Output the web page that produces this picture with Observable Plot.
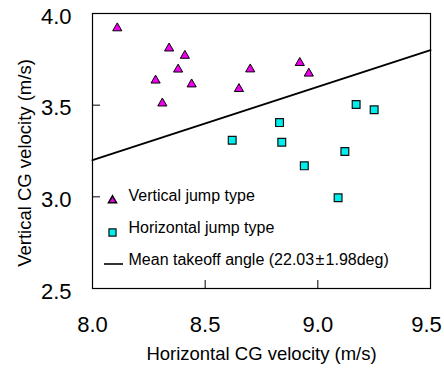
<!DOCTYPE html>
<html><head><meta charset="utf-8">
<script src="https://cdn.jsdelivr.net/npm/d3@7"></script>
<script src="https://cdn.jsdelivr.net/npm/@observablehq/plot@0.6"></script>
<style>body{margin:0;background:#fff;} svg{display:block;}</style>
</head><body><div id="chart"></div>
<script>
const verticalX = [8.11, 8.34, 8.41, 8.38, 8.28, 8.44, 8.31, 8.65, 8.70, 8.92, 8.96];
const verticalY = [3.92, 3.81, 3.77, 3.695, 3.635, 3.614, 3.51, 3.589, 3.696, 3.731, 3.673];
const horizontalX = [9.17, 9.25, 8.83, 8.62, 8.84, 9.12, 8.94, 9.09];
const horizontalY = [3.504, 3.475, 3.405, 3.309, 3.298, 3.247, 3.169, 2.995];
const lineX = [8.0, 9.5];
const lineY = [3.20, 3.80];
const xTicks = [8.0, 8.5, 9.0, 9.5];
const yTicks = [2.5, 3.0, 3.5, 4.0];
const legendLabels = ["Vertical jump type", "Horizontal jump type", "Mean takeoff angle (22.03\u200A\u00B1\u200A1.98deg)"];

const vertical = verticalX.map((x, i) => ({x, y: verticalY[i]}));
const horizontal = horizontalX.map((x, i) => ({x, y: horizontalY[i]}));
const line = lineX.map((x, i) => ({x, y: lineY[i]}));
const font = "Liberation Sans, Arial, Helvetica, sans-serif";
const magenta = "#ee00ee", cyan = "#00eeee";

function legendLine(index, scales, values, dimensions) {
  const x0 = dimensions.marginLeft;
  const y0 = dimensions.height - dimensions.marginBottom;
  const g = d3.create("svg:g");
  g.append("line").attr("x1", x0 + 12).attr("x2", x0 + 31)
    .attr("y1", y0 - 24).attr("y2", y0 - 24)
    .attr("stroke", "#000").attr("stroke-width", 1.6);
  return g.node();
}

const chart = Plot.plot({
  width: 444, height: 369,
  marginLeft: 92, marginRight: 14, marginTop: 13, marginBottom: 81,
  style: {fontFamily: font, background: "#fff"},
  x: {domain: [8.0, 9.5], axis: null},
  y: {domain: [2.5, 4.0], axis: null},
  marks: [
    Plot.frame({stroke: "#000", strokeWidth: 1.2}),
    Plot.axisX({ticks: [8.5, 9.0], tickSize: 8, dy: -8, text: null, label: null, stroke: "#000"}),
    Plot.axisY({ticks: [3.0, 3.5], tickSize: 8, dx: 8, text: null, label: null, stroke: "#000"}),
    Plot.text(xTicks.slice(0, 3), {x: d => d, frameAnchor: "bottom", dy: 43, text: d => d.toFixed(1), fontSize: 22, fill: "#000"}),
    Plot.text(xTicks.slice(3), {x: d => d, frameAnchor: "bottom", dy: 43, dx: -4, text: d => d.toFixed(1), fontSize: 22, fill: "#000"}),
    Plot.text(yTicks, {y: d => d, frameAnchor: "left", dx: -21, dy: 3, textAnchor: "end", text: d => d.toFixed(1), fontSize: 22, fill: "#000"}),
    Plot.text([0], {frameAnchor: "bottom", dy: 71, text: () => "Horizontal CG velocity (m/s)", fontSize: 18.5, fill: "#000"}),
    Plot.text([0], {frameAnchor: "left", dx: -67, dy: 12, rotate: -90, textAnchor: "middle", text: () => "Vertical CG velocity (m/s)", fontSize: 18.5, fill: "#000"}),
    Plot.line(line, {x: "x", y: "y", stroke: "#000", strokeWidth: 2}),
    Plot.dot(vertical, {x: "x", y: "y", symbol: "triangle", r: 3.4, fill: magenta, stroke: "#000", strokeWidth: 1}),
    Plot.dot(horizontal, {x: "x", y: "y", symbol: "square", r: 4.4, fill: cyan, stroke: "#111", strokeWidth: 1.2}),
    // legend
    Plot.dot([0], {frameAnchor: "bottom-left", dx: 20, dy: -88, symbol: "triangle", r: 3.0, fill: magenta, stroke: "#000"}),
    Plot.dot([0], {frameAnchor: "bottom-left", dx: 20, dy: -56, symbol: "square", r: 4.0, fill: cyan, stroke: "#111", strokeWidth: 1.2}),
    legendLine,
    Plot.text([legendLabels[0]], {frameAnchor: "bottom-left", dx: 36, dy: -88, text: d => d, fontSize: 16, textAnchor: "start", fill: "#000"}),
    Plot.text([legendLabels[1]], {frameAnchor: "bottom-left", dx: 36, dy: -56, text: d => d, fontSize: 16, textAnchor: "start", fill: "#000"}),
    Plot.text([legendLabels[2]], {frameAnchor: "bottom-left", dx: 36, dy: -24, text: d => d, fontSize: 16, textAnchor: "start", fill: "#000"})
  ]
});
document.getElementById("chart").append(chart);
</script></body></html>
